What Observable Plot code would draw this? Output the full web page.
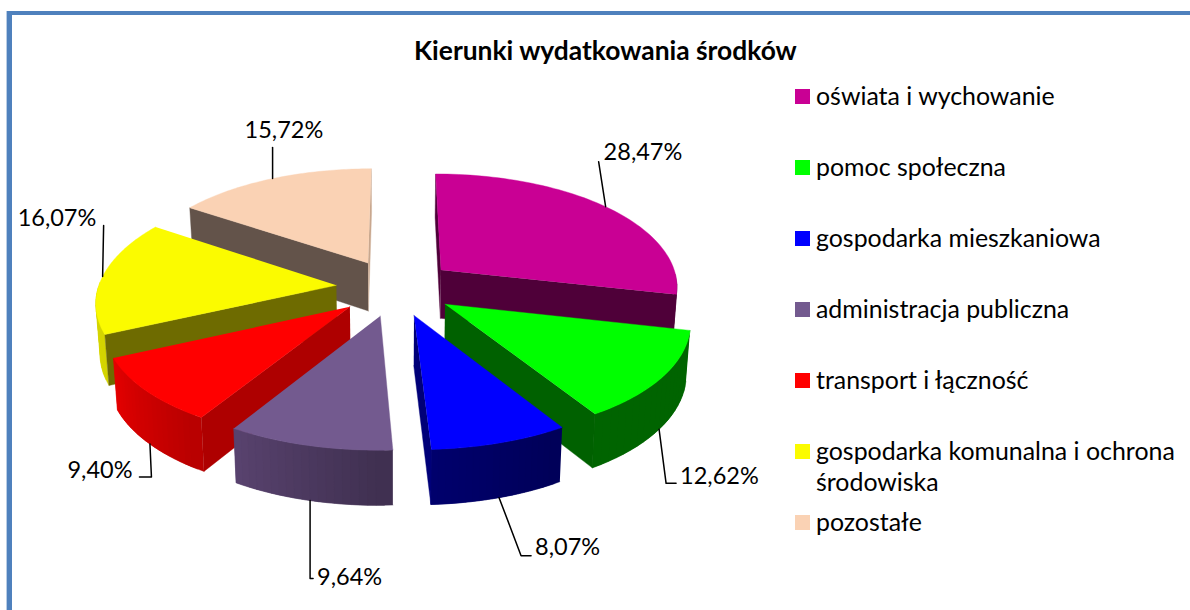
<!DOCTYPE html>
<html lang="pl">
<head>
<meta charset="utf-8">
<script src="https://cdn.jsdelivr.net/npm/d3@7"></script>
<script src="https://cdn.jsdelivr.net/npm/@observablehq/plot@0.6"></script>
<style>
  html, body { margin: 0; padding: 0; background: #fff; overflow: hidden; width: 1190px; height: 610px; }
  body { position: relative; font-family: Lato, "Noto Sans", sans-serif; color: #000; }
  #chart { position: absolute; left: 0; top: 0; }
  #frame { position: absolute; left: 7px; top: 11px; right: 0; bottom: 0; border-left: 5px solid #4F81BD; border-top: 4px solid #4F81BD; box-shadow: -1px 0 0 #B9CDE5; pointer-events: none; }
  #title { position: absolute; left: 414px; top: 35px; font-weight: 700; font-size: 26.4px; line-height: 30px; white-space: nowrap; }
  #legend { position: absolute; left: 795px; top: 80px; width: 390px; font-size: 24.9px; line-height: 31px; }
  .row { height: 71px; display: flex; align-items: flex-start; }
  .swatch { flex: none; width: 15px; height: 15px; margin-top: 9px; margin-right: 6px; }
</style>
</head>
<body>
<div id="chart"></div>
<div id="frame"></div>
<div id="title">Kierunki wydatkowania środków</div>
<div id="legend"></div>
<script>
// data
const categories = ["oświata i wychowanie", "pomoc społeczna", "gospodarka mieszkaniowa", "administracja publiczna", "transport i łączność", "gospodarka komunalna i ochrona środowiska", "pozostałe"];
const shares = [28.47, 12.62, 8.07, 9.64, 9.40, 16.07, 15.72];

// styles
const topColors = ["#C90094", "#00FF00", "#0000FF", "#735A8F", "#FF0000", "#FBFB00", "#FAD2B4"];
const cutStartColors = ["#4F0039", "#006100", "#000078", "#5A4470", "#AE0000", "#6E6B00", "#63534A"];
const cutEndColors = ["#4F0039", "#006100", "#000078", "#3F2F50", "#AE0000", "#6E6B00", "#C9A88F"];
const rimStartColors = ["#4F0039", "#006400", "#000058", "#3F2F50", "#B80000", "#D4D400", "#63534A"];
const rimEndColors = ["#4F0039", "#006400", "#00006E", "#5A4470", "#E60000", "#E0E000", "#63534A"];

// layout of the tilted, exploded pie
const pie = {cx: 395, cy: 287, rx: 238, ry: 114, persp: 0.12, perspX: 0.13, perspX2: 0.012, depth: 49, depthPersp: 0.1, shrink: 0.014, explode: 0.25};
// leader bends relative to the rim anchor, and the label offset relative to the anchor
const leaderBends = [[[-7, -45]], [[7, 54], [17, 54]], [[22, 58], [32, 58]], [[0, 78], [3, 78]], [[1.5, 33], [-10.5, 33]], [[1, -51]], [[0, -31]]];
const labelOffsets = [[-2, -54], [21, 47], [36, 50], [7, 77], [-82.5, 26], [-85, -58], [-28, -48]];

function project(u, v, h) {
  const sx = 1 + pie.perspX * v + pie.perspX2 * v * v;
  const sy = 1 + pie.persp * v;
  return {
    x: pie.cx + pie.rx * u * sx * (1 - pie.shrink * h),
    y: pie.cy + pie.ry * v * sy + pie.depth * h * (1 + pie.depthPersp * v)
  };
}

const total = d3.sum(shares);
const cumul = d3.cumsum(shares);
const slices = shares.map((value, i) => {
  const a0 = ((cumul[i] - value) / total) * 2 * Math.PI;
  const a1 = (cumul[i] / total) * 2 * Math.PI;
  const mid = (a0 + a1) / 2;
  return {i, value, a0, a1, mid, ox: pie.explode * Math.sin(mid), oy: -pie.explode * Math.cos(mid)};
});
const rimPoint = (sl, a, h) => project(sl.ox + Math.sin(a), sl.oy - Math.cos(a), h);
const apexPoint = (sl, h) => project(sl.ox, sl.oy, h);

// faces, painted back to front
const faces = [];
let faceId = 0;
function addFace(points, color) {
  const id = faceId++;
  for (const p of points) faces.push({x: p.x, y: p.y, face: id, color});
}
const order = d3.sort(slices, (s) => s.oy);
for (const sl of order) {
  const {i, a0, a1} = sl;
  // curved wall, only where it faces the viewer; each band overlaps the next to avoid seams
  const steps = 20;
  for (let k = steps - 1; k >= 0; k--) {
    const t0 = a0 + (a1 - a0) * k / steps;
    const t1 = a0 + (a1 - a0) * (k + 1) / steps;
    if (Math.cos((t0 + t1) / 2) > 0) continue;
    const color = d3.interpolateRgb(rimStartColors[i], rimEndColors[i])((k + 0.5) / steps);
    const tEnd = a0 + (a1 - a0) * Math.min(k + 2, steps) / steps;
    const poly = [];
    const tMid = (t0 + tEnd) / 2;
    poly.push(rimPoint(sl, t0, 0), rimPoint(sl, tMid, 0), rimPoint(sl, tEnd, 0), rimPoint(sl, tEnd, 1), rimPoint(sl, tMid, 1), rimPoint(sl, t0, 1));
    addFace(poly, color);
  }
  // flat cut walls
  if (Math.sin(a0) <= 0.02) addFace([apexPoint(sl, 0), rimPoint(sl, a0, 0), rimPoint(sl, a0, 1), apexPoint(sl, 1)], cutStartColors[i]);
  if (Math.sin(a1) >= -0.02) addFace([apexPoint(sl, 0), rimPoint(sl, a1, 0), rimPoint(sl, a1, 1), apexPoint(sl, 1)], cutEndColors[i]);
  // top surface
  const top = [apexPoint(sl, 0)];
  for (let k = 0; k <= 64; k++) top.push(rimPoint(sl, a0 + (a1 - a0) * k / 64, 0));
  addFace(top, topColors[i]);
}

// leaders and labels
const anchors = slices.map((sl) => rimPoint(sl, sl.mid, Math.cos(sl.mid) < 0 ? 1 : 0));
const leaders = slices.flatMap((sl, i) => {
  const a = anchors[i];
  return [{x: a.x, y: a.y, id: i}, ...leaderBends[i].map(([dx, dy]) => ({x: a.x + dx, y: a.y + dy, id: i}))];
});
const labels = slices.map((sl, i) => ({
  x: anchors[i].x + labelOffsets[i][0],
  y: anchors[i].y + labelOffsets[i][1],
  text: sl.value.toFixed(2).replace(".", ",") + "%"
}));

const plot = Plot.plot({
  width: 1190,
  height: 610,
  margin: 0,
  x: {domain: [0, 1190], range: [0, 1190], axis: null},
  y: {domain: [0, 610], range: [0, 610], axis: null},
  color: {type: "identity"},
  style: {background: "transparent", overflow: "visible"},
  marks: [
    Plot.line(faces, {x: "x", y: "y", z: "face", fill: "color", stroke: "color", strokeWidth: 0.4, curve: "linear"}),
    Plot.line(leaders, {x: "x", y: "y", z: "id", stroke: "#000", strokeWidth: 1.5, curve: "linear"}),
    Plot.text(labels, {x: "x", y: "y", text: "text", textAnchor: "start", lineAnchor: "middle", fontSize: 23.5, fontFamily: "Lato, 'Noto Sans', sans-serif", fill: "#000"})
  ]
});
document.getElementById("chart").append(plot);

const legend = d3.select("#legend");
categories.forEach((c, i) => {
  const row = legend.append("div").attr("class", "row");
  row.append("span").attr("class", "swatch").style("background", topColors[i]);
  row.append("span").text(c);
});
</script>
</body>
</html>
